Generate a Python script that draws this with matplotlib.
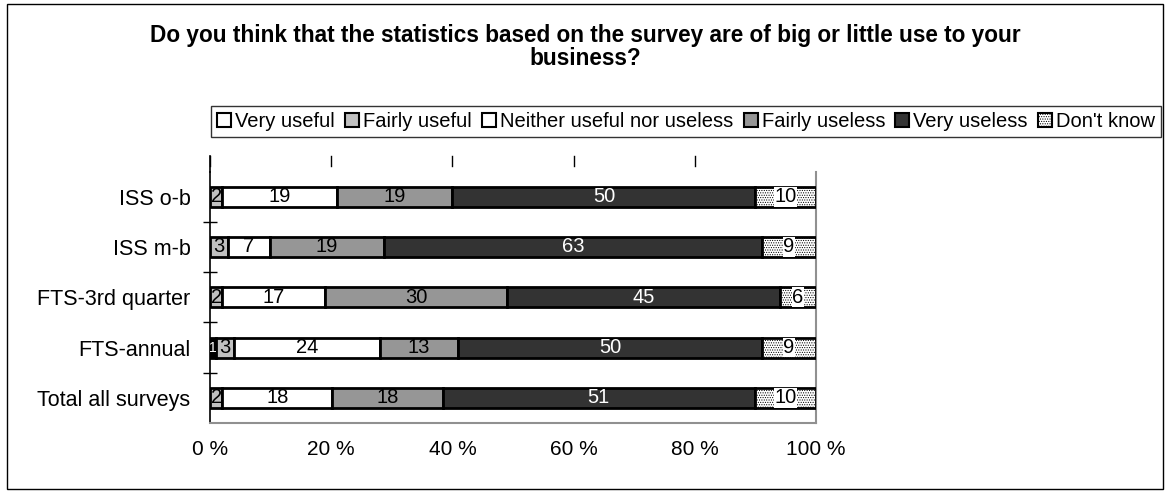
import numpy as np
import matplotlib.pyplot as plt
from matplotlib.patches import Rectangle

plt.rcParams["font.family"] = ["Liberation Sans", "DejaVu Sans"]
plt.rcParams["hatch.color"] = "#c4c4c4"
plt.rcParams["hatch.linewidth"] = 0.5

title = "Do you think that the statistics based on the survey are of big or little use to your\nbusiness?"
surveys = ["ISS o-b", "ISS m-b", "FTS-3rd quarter", "FTS-annual", "Total all surveys"]
answers = ["Very useful", "Fairly useful", "Neither useful nor useless",
           "Fairly useless", "Very useless", "Don't know"]

very_useful = [0, 0, 0, 1, 0]
fairly_useful = [2, 3, 2, 3, 2]
neither = [19, 7, 17, 24, 18]
fairly_useless = [19, 19, 30, 13, 18]
very_useless = [50, 63, 45, 50, 51]
dont_know = [10, 9, 6, 9, 10]

series = [very_useful, fairly_useful, neither, fairly_useless, very_useless, dont_know]
fills = ["white", "#c0c0c0", "white", "#969696", "#333333", "white"]
hatches = [None, None, None, None, None, "......."]
text_colors = ["black", "black", "black", "black", "white", "black"]

fig = plt.figure(figsize=(11.7, 4.93), dpi=100)
fig.patches.append(Rectangle((0.006, 0.008), 0.988, 0.984, transform=fig.transFigure,
                             fill=False, edgecolor="black", linewidth=1.0))
ax = fig.add_axes([0.1795, 0.142, 0.518, 0.51])

y = np.arange(len(surveys))
data = np.array(series, dtype=float)
totals = data.sum(axis=0)
left = np.zeros(len(surveys))
for k, (vals, fc, hatch, tc) in enumerate(zip(data, fills, hatches, text_colors)):
    share = vals / totals * 100
    for i in range(len(surveys)):
        if vals[i] == 0:
            continue
        face = fc
        txt = tc
        if k == 0:
            # the single "very useful" answer is shown as a black block
            face, txt = "black", "white"
        ax.barh(y[i], share[i], left=left[i], height=0.4, color=face,
                edgecolor="black", linewidth=2, hatch=hatch, zorder=3)
        cx = left[i] + share[i] / 2
        box = dict(facecolor="white", edgecolor="none", pad=0.3) if k == 5 else None
        fs = 10 if (k == 0) else 14.5
        ax.text(cx, y[i], f"{int(vals[i])}", ha="center", va="center",
                color=txt, fontsize=fs, zorder=5, bbox=box)
    left += share

ax.set_xlim(0, 100)
ax.set_ylim(len(surveys) - 0.5, -0.5)
ax.set_yticks(y)
ax.set_yticklabels(surveys, fontsize=15.5)
ax.set_yticks(np.arange(len(surveys) - 1) + 0.5, minor=True)
ax.tick_params(axis="y", which="major", length=0, pad=14)
ax.tick_params(axis="y", which="minor", length=10, direction="inout", width=1)
ax.set_xticks(np.arange(0, 101, 20))
ax.set_xticklabels([f"{v} %" for v in range(0, 101, 20)], fontsize=15)
ax.tick_params(axis="x", length=0, pad=12)

ax.spines["top"].set_visible(False)
ax.spines["left"].set_color("black")
ax.spines["left"].set_linewidth(1.2)
ax.spines["right"].set_color("#909090")
ax.spines["right"].set_linewidth(1.5)
ax.spines["bottom"].set_color("#909090")
ax.spines["bottom"].set_linewidth(1.5)

# short stubs along the top edge at each gridline position
for xv in range(0, 100, 20):
    ax.plot([xv, xv], [-0.62, -0.8], color="black", linewidth=1, clip_on=False)
ax.plot([0, 0], [-0.5, -0.8], color="black", linewidth=1.2, clip_on=False)

fig.text(0.5, 0.905, title, ha="center", va="center", fontsize=16.3, fontweight="bold",
         linespacing=0.98)

handles = [Rectangle((0, 0), 1, 1, facecolor=fc, edgecolor="black", linewidth=1.5, hatch=h)
           for fc, h in zip(fills, hatches)]
leg = fig.legend(handles, answers, loc="center", bbox_to_anchor=(0.5865, 0.754), ncol=6,
                 fontsize=14.5, frameon=True, fancybox=False, edgecolor="black",
                 handlelength=0.7, handleheight=0.7, handletextpad=0.2,
                 columnspacing=0.5, borderpad=0.3, borderaxespad=0)
leg.get_frame().set_linewidth(1.0)

fig.savefig("out.png", dpi=100, facecolor="white")
